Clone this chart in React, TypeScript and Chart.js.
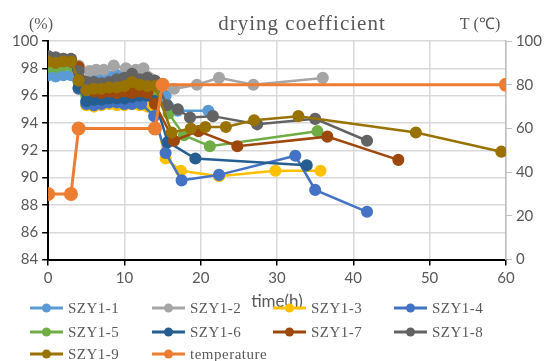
import React, { useEffect, useRef } from "react";
import { Chart, registerables } from "chart.js";

Chart.register(...registerables);

const TITLE = "drying coefficient";
const LEFT_UNIT = "(%)";
const RIGHT_UNIT = "T (℃)";
const X_TITLE = "time(h)";

const SERIES_NAMES = ["SZY1-1", "SZY1-2", "SZY1-3", "SZY1-4", "SZY1-5", "SZY1-6", "SZY1-7", "SZY1-8", "SZY1-9", "temperature"];
const COLORS = ["#5B9BD5", "#A5A5A5", "#FFC000", "#4472C4", "#70AD47", "#255E91", "#9E480E", "#636363", "#997300", "#ED7D31"];

const t1 = [0, 1, 2, 3, 4, 5, 6, 7, 8, 9, 10, 11, 12, 13, 14, 15.4, 17, 21];
const v1 = [97.5, 97.4, 97.5, 97.5, 97.0, 97.1, 97.2, 97.3, 97.4, 97.5, 97.3, 97.2, 97.2, 97.1, 96.9, 96.0, 94.9, 94.9];

const t2 = [0, 1, 2, 3, 4, 5.4, 6.3, 7.3, 8.6, 10.2, 11.5, 12.5, 16.5, 19.5, 22.4, 26.9, 36];
const v2 = [98.8, 98.7, 98.7, 98.6, 98.2, 97.8, 97.9, 97.9, 98.2, 98.0, 97.9, 98.0, 96.5, 96.8, 97.3, 96.8, 97.3];

const t3 = [0, 1, 2, 3, 4, 5, 6, 7, 8, 9, 10, 11, 12, 13, 14, 15.4, 17.4, 22.4, 29.8, 35.7];
const v3 = [98.6, 98.5, 98.5, 98.4, 96.5, 95.3, 95.2, 95.3, 95.4, 95.3, 95.3, 95.4, 95.3, 95.2, 94.6, 91.4, 90.5, 90.1, 90.5, 90.5];

const t4 = [0, 1, 2, 3, 4, 5, 6, 7, 8, 9, 10, 11, 12.2, 13.9, 15.4, 17.5, 22.4, 32.4, 35, 41.8];
const v4 = [98.7, 98.6, 98.6, 98.5, 96.5, 95.4, 95.3, 95.4, 95.5, 95.5, 95.4, 95.4, 95.4, 94.5, 91.8, 89.8, 90.2, 91.6, 89.1, 87.5];

const t5 = [0, 1, 2, 3, 4, 5, 6, 7, 8, 9, 10, 11, 12, 13, 14, 15.8, 17.8, 21.2, 35.3];
const v5 = [98.1, 98.1, 98.2, 98.2, 97.0, 96.0, 96.0, 96.1, 96.1, 96.2, 96.2, 96.3, 96.3, 96.4, 96.4, 94.7, 93.1, 92.3, 93.4];

const t6 = [0, 1, 2, 3, 4, 5, 6, 7, 8, 9, 10, 11, 12, 13, 14, 15.7, 19.3, 33.9];
const v6 = [98.7, 98.6, 98.6, 98.5, 96.6, 95.6, 95.7, 95.7, 95.8, 95.8, 95.8, 95.9, 96.0, 96.0, 95.6, 92.6, 91.4, 90.9];

const t7 = [0, 1, 2, 3, 4, 5, 6, 7, 8, 9, 10, 11, 12, 13, 14, 16.5, 19.7, 24.8, 36.6, 45.9];
const v7 = [98.7, 98.6, 98.6, 98.5, 98.1, 97.0, 96.3, 96.2, 96.3, 96.2, 96.3, 96.2, 96.3, 96.2, 95.4, 92.7, 93.4, 92.3, 93.0, 91.3];

const t8 = [0, 1, 2, 3, 4, 5, 6, 7, 8, 9, 10, 11, 12, 13, 14, 15.6, 17, 18.6, 21.6, 27.4, 35, 41.8];
const v8 = [98.9, 98.8, 98.7, 98.7, 97.8, 97.0, 97.0, 96.9, 97.0, 97.2, 97.3, 97.6, 97.2, 97.3, 97.1, 95.3, 95.0, 94.4, 94.5, 93.9, 94.3, 92.7];

const t9 = [0, 1, 2, 3, 4, 5, 6, 7, 8, 9, 10, 11, 12, 13, 14, 16.2, 18.7, 20.6, 23.3, 27, 32.8, 48.2, 59.4];
const v9 = [98.5, 98.4, 98.5, 98.5, 97.1, 96.4, 96.5, 96.5, 96.6, 96.6, 96.7, 97.0, 96.8, 96.7, 96.7, 93.3, 93.6, 93.7, 93.7, 94.2, 94.5, 93.3, 91.9];

const tT = [0, 3, 4, 14, 15, 60];
const vT = [30, 30, 60, 60, 80, 80];

const TIMES = [t1, t2, t3, t4, t5, t6, t7, t8, t9, tT];
const VALUES = [v1, v2, v3, v4, v5, v6, v7, v8, v9, vT];

const LEGEND_COL_X = [30, 152, 273, 394];
const LEGEND_ROW_Y = [308, 332, 354];

const decorPlugin = {
  id: "decor",
  afterDraw(chart: any) {
    const ctx = chart.ctx as CanvasRenderingContext2D;
    ctx.save();
    ctx.fillStyle = "#595959";
    ctx.textBaseline = "alphabetic";
    ctx.textAlign = "center";
    (ctx as any).letterSpacing = "1px";
    ctx.font = '21px "Liberation Serif"';
    ctx.fillText(TITLE, 302, 30);
    (ctx as any).letterSpacing = "0px";
    ctx.font = '16px "Liberation Serif"';
    ctx.fillText(LEFT_UNIT, 41, 29);
    ctx.fillText(RIGHT_UNIT, 480, 29);

    ctx.textAlign = "left";
    ctx.textBaseline = "middle";
    (ctx as any).letterSpacing = "0.5px";
    ctx.font = '15px "Liberation Serif"';
    chart.data.datasets.forEach((ds: any, i: number) => {
      const col = i % 4;
      const row = Math.floor(i / 4);
      const x0 = LEGEND_COL_X[col];
      const y = LEGEND_ROW_Y[row];
      ctx.strokeStyle = ds.borderColor;
      ctx.lineWidth = 3;
      ctx.beginPath();
      ctx.moveTo(x0, y);
      ctx.lineTo(x0 + 33, y);
      ctx.stroke();
      ctx.fillStyle = ds.borderColor;
      ctx.beginPath();
      ctx.arc(x0 + 16.5, y, 4.5, 0, Math.PI * 2);
      ctx.fill();
      ctx.fillStyle = "#595959";
      ctx.fillText(ds.label, x0 + 38, y + 1);
    });
    ctx.restore();
  },
};

export default function App() {
  const ref = useRef<HTMLCanvasElement | null>(null);

  useEffect(() => {
    if (!ref.current) return;
    const datasets = SERIES_NAMES.map((name, i) => {
      const isTemp = i === SERIES_NAMES.length - 1;
      return {
        label: name,
        data: TIMES[i].map((t, k) => ({ x: t, y: VALUES[i][k] })),
        borderColor: COLORS[i],
        backgroundColor: COLORS[i],
        pointBackgroundColor: COLORS[i],
        pointBorderColor: COLORS[i],
        borderWidth: isTemp ? 3 : 2.5,
        pointRadius: isTemp ? 5.5 : 4.8,
        pointHoverRadius: 5,
        tension: 0,
        yAxisID: isTemp ? "y1" : "y",
        order: SERIES_NAMES.length - i,
      };
    });

    const chart = new Chart(ref.current, {
      type: "line",
      data: { datasets },
      options: {
        responsive: false,
        animation: false,
        devicePixelRatio: 1,
        layout: { padding: { top: 41, left: 8, right: 3, bottom: 49 } },
        plugins: {
          legend: { display: false },
          title: { display: false },
          tooltip: { enabled: false },
        },
        scales: {
          x: {
            type: "linear",
            min: 0,
            max: 60,
            ticks: { stepSize: 10, color: "#595959", font: { family: "Lato", size: 15 }, padding: 4 },
            grid: { color: "#d9d9d9", lineWidth: 1.5, tickColor: "#000", tickLength: 6 },
            border: { color: "#000", width: 2 },
            title: { display: true, text: X_TITLE, color: "#595959", font: { family: "Lato", size: 17 }, padding: 0 },
          },
          y: {
            position: "left",
            min: 84,
            max: 100,
            ticks: { stepSize: 2, color: "#595959", font: { family: "Lato", size: 15 }, padding: 4 },
            grid: { color: "#d9d9d9", lineWidth: 1.5, tickColor: "#000", tickLength: 6 },
            border: { color: "#000", width: 2 },
          },
          y1: {
            position: "right",
            min: 0,
            max: 100,
            ticks: { stepSize: 20, color: "#595959", font: { family: "Lato", size: 15 }, padding: 4 },
            grid: { drawOnChartArea: false, tickColor: "#bfbfbf", tickLength: 6 },
            border: { color: "#bfbfbf", width: 1.5 },
          },
        },
      },
      plugins: [decorPlugin],
    } as any);
    return () => chart.destroy();
  }, []);

  return (
    <div style={{ position: "absolute", left: 0, top: 0, width: 549, height: 361, background: "#fff" }}>
      <canvas ref={ref} width={549} height={361} />
    </div>
  );
}
